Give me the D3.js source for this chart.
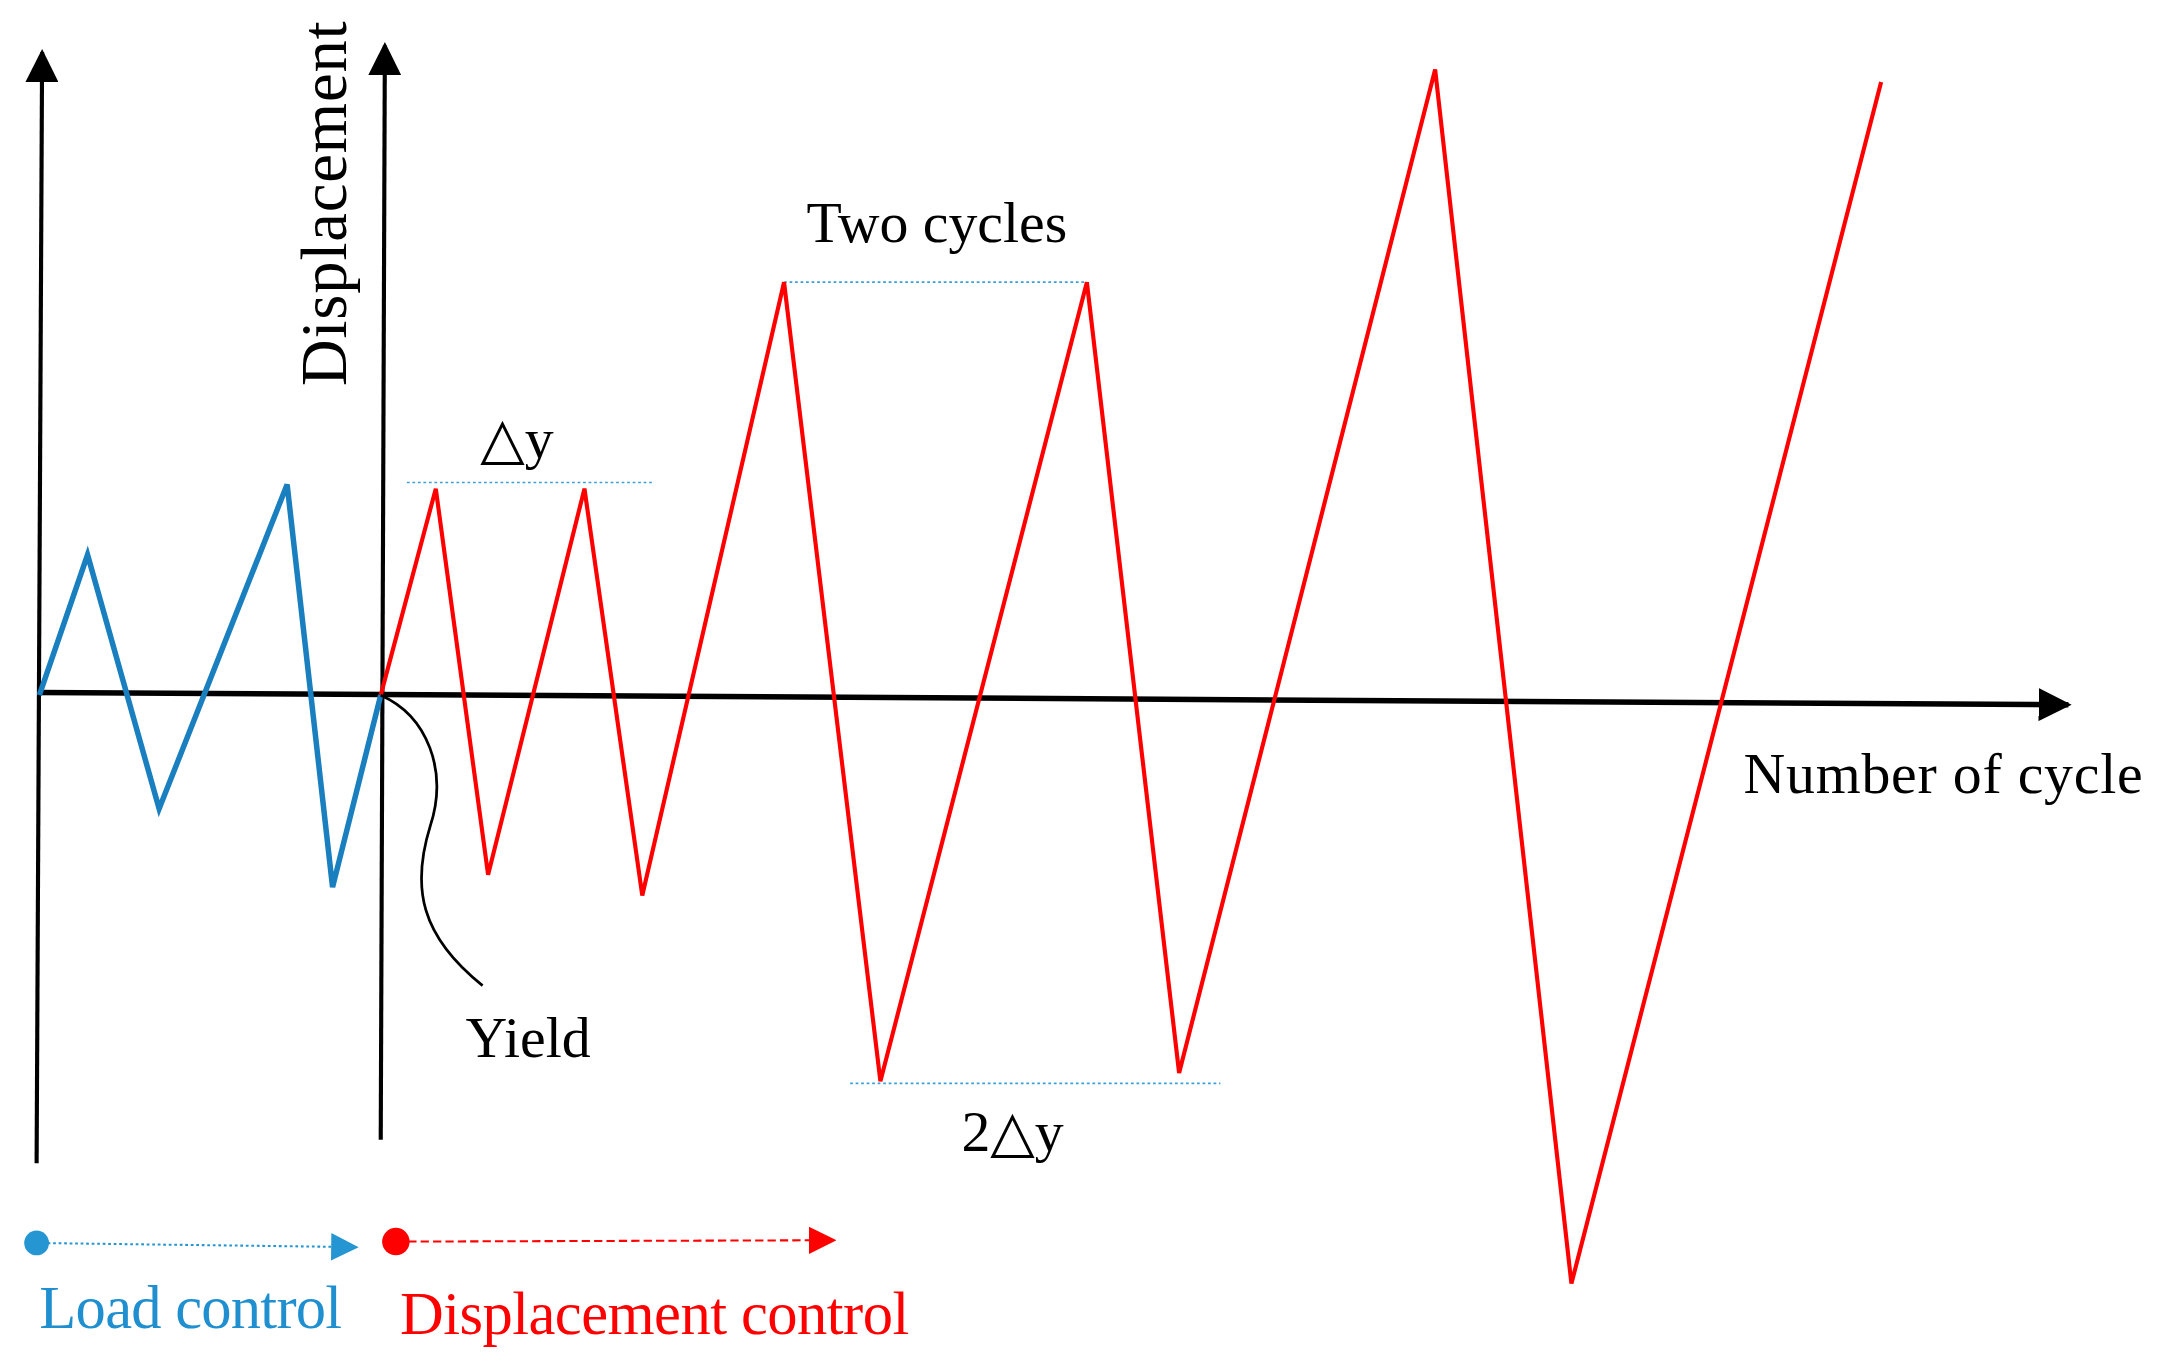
<!DOCTYPE html>
<html><head><meta charset="utf-8">
<script src="https://cdn.jsdelivr.net/npm/d3@7"></script>
<style>body{margin:0;background:#fff}text{font-family:"Liberation Serif","DejaVu Serif",serif}</style>
</head><body><div id="chart"></div>
<script>
// time (arbitrary units) and displacement (multiples of yield displacement)
const loadT = [0, 3.5, 8.7, 18, 21.3, 24.8];
const loadD = [0, 0.68, -0.55, 1.02, -0.93, 0];
const dispT = [24.8, 28.8, 32.6, 39.6, 43.8, 54.1, 61.1, 76.1, 82.8, 101.4, 111.3, 133.8];
const dispD = [0, 1.0, -0.87, 1.0, -0.97, 2.0, -1.87, 2.0, -1.83, 3.03, -2.85, 2.97];

const svg = d3.select('#chart').append('svg')
  .attr('width', 2160).attr('height', 1371)
  .attr('viewBox', '0 0 1568 996');

const x = d3.scaleLinear().domain([0, 148]).range([28, 1508]);
const y = d3.scaleLinear().domain([-3, 3]).range([955, 55]);

const defs = svg.append('defs');
function marker(id, color, size) {
  defs.append('marker').attr('id', id).attr('viewBox', '0 0 10 10')
    .attr('refX', 9).attr('refY', 5).attr('markerWidth', size).attr('markerHeight', size)
    .attr('markerUnits', 'userSpaceOnUse').attr('orient', 'auto')
    .append('path').attr('d', 'M0,0L10,5L0,10Z').attr('fill', color);
}
marker('ax', '#000', 24);
marker('bArr', '#2596d1', 20);
marker('rArr', '#f00', 20);

// axes
const axes = [[26, 845, 30, 38], [276, 828, 279, 33], [28, 503, 1502, 512]];
axes.forEach(a => svg.append('line').attr('x1', a[0]).attr('y1', a[1]).attr('x2', a[2]).attr('y2', a[3])
  .attr('stroke', '#000').attr('stroke-width', a[1] === 503 ? 4 : 3).attr('marker-end', 'url(#ax)'));

// reference dotted lines
const refs = [[1.03, 26.7, 44.6], [2.0, 54.1, 76.1], [-1.88, 58.9, 85.8]];
refs.forEach(r => svg.append('line').attr('x1', x(r[1])).attr('x2', x(r[2]))
  .attr('y1', y(r[0])).attr('y2', y(r[0]))
  .attr('stroke', '#3aa0d8').attr('stroke-width', 1.2).attr('stroke-dasharray', '2,2'));

const line = d3.line().x(d => x(d[0])).y(d => y(d[1]));
svg.append('path').datum(loadT.map((t, i) => [t, loadD[i]])).attr('d', line)
  .attr('fill', 'none').attr('stroke', '#1a7fbf').attr('stroke-width', 4).attr('stroke-linejoin', 'miter');
svg.append('path').datum(dispT.map((t, i) => [t, dispD[i]])).attr('d', line)
  .attr('fill', 'none').attr('stroke', '#f00').attr('stroke-width', 3);

// yield pointer
svg.append('path').attr('d', 'M276,505 C310,520 325,560 312,600 C298,645 305,680 350,716')
  .attr('fill', 'none').attr('stroke', '#000').attr('stroke-width', 2);

const txt = (s, tx, ty, size, fill, rot) => {
  const t = svg.append('text').attr('x', tx).attr('y', ty).attr('font-size', size)
    .attr('fill', fill || '#000').attr('text-anchor', 'middle').text(s);
  if (rot) t.attr('transform', `rotate(-90,${tx},${ty})`);
  return t;
};
txt('Displacement', 251, 148, 47, '#000', true).attr('textLength', 265);
txt('Two cycles', 680, 176, 42);
txt('△y', 375, 333, 42);
txt('Yield', 383, 768, 42);
txt('2△y', 735, 836, 42);
txt('Number of cycle', 1411, 576, 42).attr('textLength', 290);

// legend
svg.append('line').attr('x1', 26).attr('y1', 903).attr('x2', 258).attr('y2', 906)
  .attr('stroke', '#2596d1').attr('stroke-width', 1.5).attr('stroke-dasharray', '2,2').attr('marker-end', 'url(#bArr)');
svg.append('circle').attr('cx', 26).attr('cy', 903).attr('r', 9).attr('fill', '#2596d1');
svg.append('line').attr('x1', 287).attr('y1', 902).attr('x2', 605).attr('y2', 901)
  .attr('stroke', '#f00').attr('stroke-width', 1.5).attr('stroke-dasharray', '6,3').attr('marker-end', 'url(#rArr)');
svg.append('circle').attr('cx', 287).attr('cy', 902).attr('r', 10).attr('fill', '#f00');
txt('Load control', 138, 965, 44, '#1f8fd0').attr('textLength', 220);
txt('Displacement control', 475, 969, 44, '#f00').attr('textLength', 370);
</script></body></html>
